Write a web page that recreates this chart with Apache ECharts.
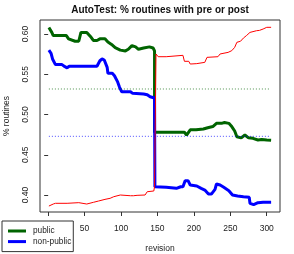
<!DOCTYPE html>
<html><head><meta charset="utf-8">
<script src="https://cdn.jsdelivr.net/npm/echarts@6/dist/echarts.min.js"></script>
<style>html,body{margin:0;padding:0;background:#fff}#c{width:294px;height:254px}</style>
</head><body><div id="c"></div>
<script>
const xTicks = [0, 50, 100, 150, 200, 250, 300];
const xLabels = [50, 100, 150, 200, 250, 300];
const yTicks = [0.40, 0.45, 0.50, 0.55, 0.60];

const publicX = [1, 5, 7, 25, 28, 37, 42, 45, 53, 58, 62, 67, 71, 78, 82, 87, 92, 99, 106, 110, 115, 120, 124, 131, 139, 144, 146, 146, 149, 187, 190, 195, 203, 213, 219, 226, 231, 238, 242, 248, 252, 256, 259, 265, 270, 275, 281, 288, 293, 300, 306];
const publicY = [0.608, 0.602, 0.598, 0.598, 0.594, 0.591, 0.591, 0.602, 0.602, 0.597, 0.592, 0.592, 0.594, 0.594, 0.590, 0.587, 0.583, 0.580, 0.579, 0.581, 0.5855, 0.584, 0.581, 0.5826, 0.584, 0.5826, 0.579, 0.478, 0.478, 0.478, 0.4745, 0.481, 0.481, 0.482, 0.4836, 0.485, 0.489, 0.489, 0.490, 0.489, 0.485, 0.4795, 0.4724, 0.471, 0.4745, 0.471, 0.4704, 0.4683, 0.469, 0.4683, 0.468];

const nonPublicX = [1, 4, 6, 10, 19, 23, 26, 29, 67, 71, 74, 77, 81, 82, 88, 91, 93, 95, 98, 101, 113, 116, 131, 136, 140, 146, 146.5, 149, 162, 176, 182, 185, 188, 192, 195, 204, 210, 215, 220, 224, 229, 231, 236, 241, 248, 253, 260, 268, 276, 277, 282, 284, 288, 295, 306];
const nonPublicY = [0.580, 0.576, 0.569, 0.562, 0.562, 0.5594, 0.558, 0.560, 0.560, 0.5668, 0.569, 0.5677, 0.5586, 0.5512, 0.5512, 0.5482, 0.5482, 0.5412, 0.5338, 0.5283, 0.5283, 0.5263, 0.5255, 0.5246, 0.5221, 0.5205, 0.4103, 0.4103, 0.4096, 0.4083, 0.4103, 0.4103, 0.4178, 0.4178, 0.4124, 0.4112, 0.4083, 0.4062, 0.4012, 0.4012, 0.4071, 0.4137, 0.4124, 0.4096, 0.4054, 0.400, 0.3988, 0.3979, 0.3971, 0.3897, 0.388, 0.390, 0.3905, 0.391, 0.391];

const overallX = [1, 7, 10, 26, 42, 44, 53, 62, 69, 78, 85, 90, 99, 113, 117, 122, 133, 136, 145, 146, 148, 148, 151, 162, 163, 185, 187, 193, 195, 204, 215, 218, 233, 236, 247, 252, 256, 259, 264, 268, 272, 277, 286, 290, 295, 300, 306];
const overallY = [0.3863, 0.3888, 0.3897, 0.3897, 0.3905, 0.3888, 0.3888, 0.3909, 0.3925, 0.3946, 0.3959, 0.3979, 0.400, 0.3991, 0.3991, 0.3996, 0.400, 0.4041, 0.405, 0.4103, 0.4103, 0.5752, 0.5718, 0.5718, 0.5735, 0.5735, 0.5661, 0.5661, 0.5627, 0.5632, 0.5648, 0.571, 0.5718, 0.5752, 0.5772, 0.5793, 0.5834, 0.5897, 0.591, 0.595, 0.5979, 0.602, 0.6041, 0.6045, 0.6062, 0.6083, 0.6083];

const meanX = [1, 305];
const publicMean = 0.5317;
const nonPublicMean = 0.4729;

function pairs(xs, ys) { return xs.map((x, i) => [x, ys[i]]); }

const FONT = 'Liberation Sans';
const chart = echarts.init(document.getElementById('c'), null, { renderer: 'canvas' });
chart.setOption({
  animation: false,
  graphic: [{
    type: 'text', x: 160, y: 10,
    style: { text: 'AutoTest: % routines with pre or post', font: 'bold 10px "Liberation Sans"', textAlign: 'center', textVerticalAlign: 'middle', verticalAlign: 'middle', fill: '#111' }
  }],
  grid: { left: 40, right: 14, top: 20, bottom: 42, show: true, borderColor: '#333', borderWidth: 1, backgroundColor: 'transparent', containLabel: false, outerBoundsMode: 'none' },
  xAxis: {
    type: 'value', min: -11.2, max: 318.2,
    name: 'revision', nameLocation: 'middle', nameGap: 32.5,
    nameTextStyle: { fontFamily: FONT, fontSize: 8.5, color: '#222' },
    axisLine: { show: false },
    axisTick: { show: true, length: 4, customValues: xTicks, lineStyle: { color: '#333' } },
    axisLabel: { customValues: xLabels, margin: 12.5, fontFamily: FONT, fontSize: 8.5, color: '#222' },
    splitLine: { show: false }
  },
  yAxis: {
    type: 'value', min: 0.3789, max: 0.6174,
    name: '% routines', nameLocation: 'middle', nameRotate: 90, nameGap: 29,
    nameTextStyle: { fontFamily: FONT, fontSize: 8.5, color: '#222' },
    axisLine: { show: false },
    axisTick: { show: true, length: 4, customValues: yTicks, lineStyle: { color: '#333' } },
    axisLabel: { customValues: yTicks, rotate: 90, margin: 10, fontFamily: FONT, fontSize: 8.5, color: '#222', formatter: v => v.toFixed(2) },
    splitLine: { show: false }
  },
  legend: {
    left: 2, top: 221, orient: 'vertical',
    backgroundColor: '#fff', borderColor: '#333', borderWidth: 1, borderRadius: 0,
    padding: [5, 2, 5, 6], itemWidth: 18, itemHeight: 3, itemGap: 0.6, icon: 'rect',
    textStyle: { fontFamily: FONT, fontSize: 8.3, color: '#222', lineHeight: 10, padding: [0, 0, 0, 2] },
    data: ['public', 'non-public']
  },
  series: [
    { name: 'public', type: 'line', data: pairs(publicX, publicY), showSymbol: false, symbol: 'none', lineStyle: { color: '#006400', width: 3 }, itemStyle: { color: '#006400' }, z: 2 },
    { name: 'non-public', type: 'line', data: pairs(nonPublicX, nonPublicY), showSymbol: false, symbol: 'none', lineStyle: { color: '#0000ff', width: 3 }, itemStyle: { color: '#0000ff' }, z: 3 },
    { name: 'overall', type: 'line', data: pairs(overallX, overallY), showSymbol: false, symbol: 'none', lineStyle: { color: '#ff0000', width: 1 }, itemStyle: { color: '#ff0000' }, z: 4 },
    { name: 'public mean', type: 'line', data: meanX.map(x => [x, publicMean]), showSymbol: false, symbol: 'none', lineStyle: { color: '#006400', width: 1, type: [1, 2], opacity: 0.7 }, z: 5 },
    { name: 'non-public mean', type: 'line', data: meanX.map(x => [x, nonPublicMean]), showSymbol: false, symbol: 'none', lineStyle: { color: '#0000ff', width: 1, type: [1, 2], opacity: 0.7 }, z: 5 }
  ]
});
</script>
</body></html>
